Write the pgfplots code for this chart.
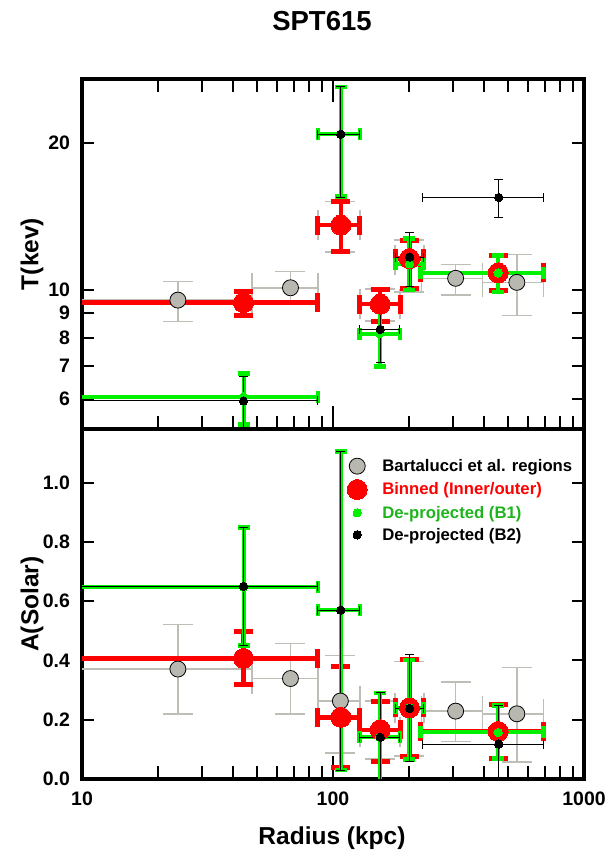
\documentclass[border=0pt]{standalone}
\usepackage{pgfplots}
\pgfplotsset{compat=1.18}
\usepackage{pgfplotstable}
\usepackage{fontspec}
\setmainfont{Liberation Sans}

\definecolor{gfill}{RGB}{185,184,176}
\definecolor{gerr}{RGB}{190,190,182}
\definecolor{lime}{RGB}{0,240,0}
\definecolor{dgreen}{RGB}{30,180,30}

% x xp xm : radius and bin extent; T (keV) with errors; A (solar) with errors
\pgfplotstableread{
x xp xm T Tp Tm A Ap Am
24.1 23.5 19.1 9.54 0.88 0.92 0.371 0.150 0.151
67.7 19.3 20.1 10.11 0.80 0.75 0.339 0.119 0.119
107 21 20 13.57 1.59 1.61 0.263 0.154 0.176
154 31 26 9.36 0.69 0.72 0.160 0.104 0.092
201 29 24 11.5 1.14 1.58 0.240 0.157 0.163
308 87 83 10.57 0.71 0.79 0.229 0.099 0.103
540 150 145 10.37 1.44 1.49 0.220 0.157 0.162
}\bart

\pgfplotstableread{
x xp xm T Tp Tm A Ap Am
44.0 42.5 39 9.43 0.49 0.55 0.407 0.091 0.087
107.4 20.6 20.9 13.57 1.59 1.61 0.208 0.171 0.170
154.2 30.8 26.9 9.36 0.69 0.75 0.166 0.094 0.108
201.7 27.3 24.5 11.59 1.05 1.51 0.240 0.163 0.163
455 235 231.6 10.84 0.93 0.87 0.1605 0.091 0.0915
}\binned

\pgfplotstableread{
x xp xm T Tp Tm A Ap Am
44.0 43 39 6.05 0.71 0.73 0.648 0.201 0.197
107.4 20.6 20.4 20.8 5.17 5.27 0.570 0.535 0.540
153.2 31.3 25.9 8.15 1.25 1.17 0.141 0.150 0.17
201.7 27.3 24.5 11.31 1.43 1.31 0.240 0.161 0.174
455 235 231.6 10.84 0.93 0.92 0.157 0.091 0.088
}\bone

\pgfplotstableread{
x xp xm T Tp Tm A Ap Am
44.0 43 39 5.94 0.72 0.69 0.650 0.199 0.199
107.4 20.6 20.4 20.8 5.17 5.35 0.570 0.535 0.540
154.2 30.3 26.9 8.31 1.15 1.20 0.141 0.150 0.20
202 27 24 11.68 1.43 1.50 0.238 0.181 0.180
457.6 232.4 230.8 15.45 1.35 1.40 0.118 0.130 0.20
}\btwo

\begin{document}
\begin{tikzpicture}
\path[use as bounding box] (0pt,0pt) rectangle (613pt,856pt);

% ---------- top panel: temperature ----------
\begin{axis}[
  scale only axis, width=502pt, height=350.6pt,
  at={(82pt,426.7pt)}, anchor=south west,
  xmode=log, xmin=10, xmax=1000,
  ymode=log, ymin=5.2, ymax=27,
  axis line style={line width=4pt},
  tick align=inside,
  major tick length=12pt, minor tick length=13pt,
  tick style={line width=2pt, black},
  xtick={10,100,1000},
  minor xtick={20,30,40,50,60,70,80,90,200,300,400,500,600,700,800,900},
  extra x ticks={100}, extra x tick labels={},
  extra x tick style={major tick length=23pt},
  tick label style={font=\fontsize{19.5}{21}\selectfont\bfseries},
  yticklabel style={xshift=-8.5pt},
  label style={font=\fontsize{24.5}{26}\selectfont\bfseries},
  ytick={6,7,8,9,10,20}, yticklabels={6,7,8,9,10,20},
  xticklabels={},
  ylabel={T(kev)},
  ylabel style={at={(axis description cs:-0.0996,0.5)}, anchor=center},
  title={SPT615},
  title style={at={(axis description cs:0.478,1.148)}, anchor=center, font=\fontsize{27.5}{29}\selectfont\bfseries},
]
\addplot[color=black, only marks, mark=*, mark size=8pt, mark options={fill=gfill, draw=black, line width=0.8pt},
  error bars/.cd, x dir=both, x explicit, y dir=both, y explicit,
  error bar style={line width=1.5pt, color=gerr},
  error mark options={rotate=90, line width=1.5pt, color=gerr, mark size=15pt}]
  table[x=x, y=T, x error plus=xp, x error minus=xm, y error plus=Tp, y error minus=Tm] {\bart};
\addplot[color=red, only marks, mark=*, mark size=10pt, mark options={fill=red, draw=red, line width=0pt},
  error bars/.cd, x dir=both, x explicit, y dir=both, y explicit,
  error bar style={line width=4.5pt, color=red},
  error mark options={rotate=90, line width=5pt, color=red, mark size=9.5pt}]
  table[x=x, y=T, x error plus=xp, x error minus=xm, y error plus=Tp, y error minus=Tm] {\binned};
\addplot[color=lime, only marks, mark=*, mark size=4.2pt, mark options={fill=lime, draw=lime, line width=0pt},
  error bars/.cd, x dir=both, x explicit, y dir=both, y explicit,
  error bar style={line width=4pt, color=lime},
  error mark options={rotate=90, line width=4.5pt, color=lime, mark size=6pt}]
  table[x=x, y=T, x error plus=xp, x error minus=xm, y error plus=Tp, y error minus=Tm] {\bone};
\addplot[color=black, only marks, mark=*, mark size=4.2pt, mark options={fill=black, draw=black, line width=0pt},
  error bars/.cd, x dir=both, x explicit, y dir=both, y explicit,
  error bar style={line width=1pt, color=black},
  error mark options={rotate=90, line width=1pt, color=black, mark size=4.5pt}]
  table[x=x, y=T, x error plus=xp, x error minus=xm, y error plus=Tp, y error minus=Tm] {\btwo};
\end{axis}

% ---------- bottom panel: abundance ----------
\begin{axis}[
  scale only axis, width=502pt, height=349.7pt,
  at={(82pt,77pt)}, anchor=south west,
  xmode=log, xmin=10, xmax=1000,
  ymin=0, ymax=1.18,
  axis line style={line width=4pt},
  tick align=inside,
  major tick length=12pt, minor tick length=13pt,
  tick style={line width=2pt, black},
  xtick={10,100,1000},
  minor xtick={20,30,40,50,60,70,80,90,200,300,400,500,600,700,800,900},
  extra x ticks={100}, extra x tick labels={},
  extra x tick style={major tick length=23pt},
  tick label style={font=\fontsize{19.5}{21}\selectfont\bfseries},
  yticklabel style={xshift=-8.5pt},
  label style={font=\fontsize{24.5}{26}\selectfont\bfseries},
  ytick={0,0.2,0.4,0.6,0.8,1.0}, yticklabels={0.0,0.2,0.4,0.6,0.8,1.0},
  xtick pos=left,
  xticklabels={10,100,1000},
  xticklabel style={yshift=-9pt},
  xlabel={Radius (kpc)},
  xlabel style={at={(axis description cs:0.498,-0.169)}, anchor=center},
  ylabel={A(Solar)},
  ylabel style={at={(axis description cs:-0.0996,0.5)}, anchor=center},
  legend style={draw=none, fill=none, at={(axis description cs:0.522,0.926)}, anchor=north west,
    font=\fontsize{16.7}{18}\selectfont\bfseries, row sep=4.5pt},
  legend cell align=left,
  legend image code/.code={\path[draw=none,fill=none] (0pt,0pt) (33pt,0pt);\draw[#1] plot coordinates {(10pt,0pt)};},
]
\addplot[color=black, only marks, mark=*, mark size=8pt, mark options={fill=gfill, draw=black, line width=0.8pt},
  error bars/.cd, x dir=both, x explicit, y dir=both, y explicit,
  error bar style={line width=1.5pt, color=gerr},
  error mark options={rotate=90, line width=1.5pt, color=gerr, mark size=15pt}]
  table[x=x, y=A, x error plus=xp, x error minus=xm, y error plus=Ap, y error minus=Am] {\bart};
\addlegendentry{Bartalucci et al. regions}
\addplot[color=red, only marks, mark=*, mark size=10pt, mark options={fill=red, draw=red, line width=0pt},
  error bars/.cd, x dir=both, x explicit, y dir=both, y explicit,
  error bar style={line width=4.5pt, color=red},
  error mark options={rotate=90, line width=5pt, color=red, mark size=9.5pt}]
  table[x=x, y=A, x error plus=xp, x error minus=xm, y error plus=Ap, y error minus=Am] {\binned};
\addlegendentry{\textcolor{red}{Binned (Inner/outer)}}
\addplot[color=lime, only marks, mark=*, mark size=4.2pt, mark options={fill=lime, draw=lime, line width=0pt},
  error bars/.cd, x dir=both, x explicit, y dir=both, y explicit,
  error bar style={line width=4pt, color=lime},
  error mark options={rotate=90, line width=4.5pt, color=lime, mark size=6pt}]
  table[x=x, y=A, x error plus=xp, x error minus=xm, y error plus=Ap, y error minus=Am] {\bone};
\addlegendentry{\textcolor{dgreen}{De-projected (B1)}}
\addplot[color=black, only marks, mark=*, mark size=4.2pt, mark options={fill=black, draw=black, line width=0pt},
  error bars/.cd, x dir=both, x explicit, y dir=both, y explicit,
  error bar style={line width=1pt, color=black},
  error mark options={rotate=90, line width=1pt, color=black, mark size=4.5pt}]
  table[x=x, y=A, x error plus=xp, x error minus=xm, y error plus=Ap, y error minus=Am] {\btwo};
\addlegendentry{\textcolor{black}{De-projected (B2)}}
\end{axis}
\end{tikzpicture}
\end{document}
